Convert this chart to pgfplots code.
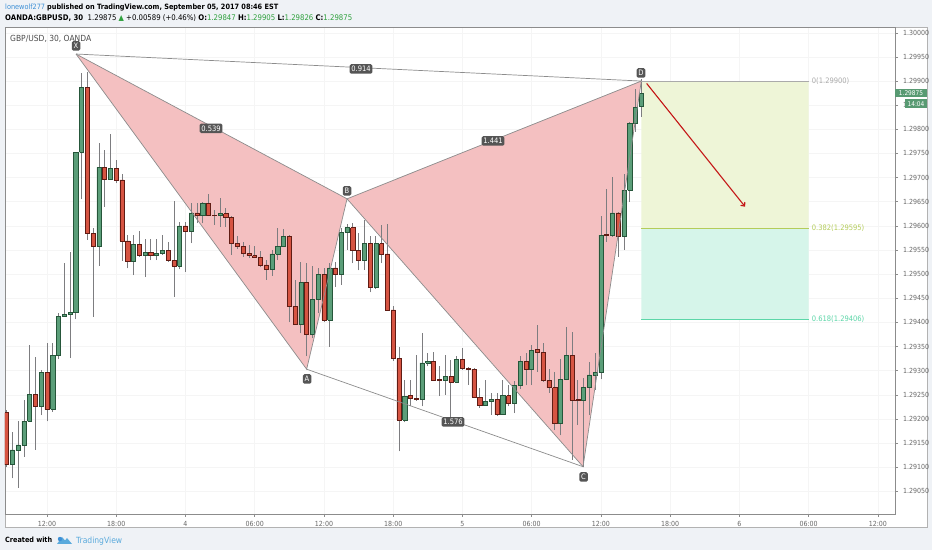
\documentclass[border=0pt]{standalone}
\usepackage{pgfplots}
\pgfplotsset{compat=1.18}
\usepackage{pgfplotstable}
\usepackage{fontspec}
\setmainfont{DejaVu Sans Condensed}
\usetikzlibrary{arrows.meta}

\definecolor{bgc}{RGB}{239,242,246}
\definecolor{cgreen}{RGB}{91,158,121}
\definecolor{cgreenb}{RGB}{38,86,58}
\definecolor{cred}{RGB}{214,84,66}
\definecolor{credb}{RGB}{96,28,20}
\definecolor{wickc}{RGB}{125,125,128}
\definecolor{pinkf}{RGB}{244,192,193}
\definecolor{patl}{RGB}{140,140,140}
\definecolor{labbg}{RGB}{85,85,85}
\definecolor{fibA}{RGB}{238,245,215}
\definecolor{fibB}{RGB}{214,245,234}
\definecolor{fibz}{RGB}{170,170,170}
\definecolor{fibt}{RGB}{180,204,90}
\definecolor{fibs}{RGB}{92,214,168}
\definecolor{arrowc}{RGB}{196,22,22}
\definecolor{tvblue}{RGB}{62,144,214}
\definecolor{tvlight}{RGB}{90,170,220}
\definecolor{tvgreen}{RGB}{46,160,60}
\definecolor{tagg}{RGB}{88,154,114}
\definecolor{tickc}{RGB}{105,105,105}

\newcommand\drawcandles[4]{%
  \pgfplotsinvokeforeach{0,...,#4}{%
    \pgfplotstablegetelem{##1}{t}\of#1\let\cT\pgfplotsretval
    \pgfplotstablegetelem{##1}{o}\of#1\let\cO\pgfplotsretval
    \pgfplotstablegetelem{##1}{h}\of#1\let\cH\pgfplotsretval
    \pgfplotstablegetelem{##1}{l}\of#1\let\cL\pgfplotsretval
    \pgfplotstablegetelem{##1}{c}\of#1\let\cC\pgfplotsretval
    \pgfmathsetmacro\cTl{\cT-0.36}%
    \pgfmathsetmacro\cTr{\cT+0.36}%
    \edef\candlenext{%
      \noexpand\addplot[draw=wickc, line width=0.8bp] coordinates {(\cT,\cL) (\cT,\cH)};%
      \noexpand\addplot[fill=#2, draw=#3, line width=0.6bp] coordinates {(\cTl,\cO) (\cTr,\cO) (\cTr,\cC) (\cTl,\cC) (\cTl,\cO)};%
    }%
    \candlenext
  }%
}

\tikzset{plab/.style={fill=labbg, text=white, rounded corners=1.5bp, inner xsep=1.8bp, inner ysep=1.2bp, minimum height=9.5bp, minimum width=8.5bp, font=\fontsize{7.5bp}{8bp}\selectfont}}

\begin{document}
\pgfplotstableread{
t o h l c
-6 1.29105 1.29172 1.29077 1.29136
-5 1.29136 1.29195 1.29057 1.29146
-4 1.29146 1.29239 1.29122 1.29195
-3 1.29195 1.29353 1.29195 1.29251
-1 1.29227 1.29302 1.29208 1.29297
1 1.29220 1.29358 1.29215 1.29331
2 1.29331 1.29419 1.29324 1.29412
3 1.29412 1.29524 1.29412 1.29417
4 1.29417 1.29545 1.29326 1.29420
5 1.29420 1.29752 1.29407 1.29752
6 1.29752 1.29916 1.29655 1.29887
9 1.29557 1.29772 1.29517 1.29721
11 1.29696 1.29790 1.29695 1.29719
15 1.29526 1.29581 1.29498 1.29562
17 1.29538 1.29572 1.29494 1.29545
19 1.29538 1.29572 1.29529 1.29543
20 1.29543 1.29581 1.29540 1.29549
23 1.29517 1.29609 1.29510 1.29600
25 1.29589 1.29648 1.29564 1.29627
27 1.29621 1.29650 1.29605 1.29647
30 1.29621 1.29657 1.29598 1.29625
39 1.29509 1.29550 1.29497 1.29542
40 1.29542 1.29595 1.29529 1.29558
41 1.29558 1.29593 1.29557 1.29578
44 1.29395 1.29526 1.29377 1.29483
46 1.29376 1.29517 1.29367 1.29448
47 1.29448 1.29512 1.29420 1.29500
49 1.29405 1.29522 1.29350 1.29513
51 1.29500 1.29595 1.29478 1.29587
52 1.29587 1.29604 1.29550 1.29596
55 1.29528 1.29613 1.29509 1.29563
57 1.29473 1.29578 1.29470 1.29563
62 1.29198 1.29281 1.29193 1.29247
65 1.29241 1.29378 1.29226 1.29316
66 1.29316 1.29336 1.29309 1.29319
69 1.29280 1.29333 1.29250 1.29288
71 1.29276 1.29330 1.29274 1.29323
76 1.29229 1.29281 1.29227 1.29236
77 1.29236 1.29254 1.29209 1.29241
79 1.29209 1.29281 1.29209 1.29248
81 1.29232 1.29278 1.29212 1.29269
82 1.29269 1.29330 1.29262 1.29319
84 1.29302 1.29353 1.29270 1.29342
89 1.29191 1.29325 1.29166 1.29282
90 1.29282 1.29391 1.29280 1.29332
93 1.29238 1.29284 1.29100 1.29265
94 1.29265 1.29318 1.29208 1.29291
95 1.29291 1.29337 1.29260 1.29296
96 1.29296 1.29620 1.29282 1.29581
98 1.29580 1.29701 1.29577 1.29627
100 1.29579 1.29708 1.29551 1.29674
101 1.29674 1.29815 1.29650 1.29813
102 1.29813 1.29884 1.29795 1.29846
103 1.29847 1.29905 1.29826 1.29875
}\greencandles
\pgfplotstableread{
t o h l c
-7 1.29213 1.29219 1.29101 1.29105
-2 1.29251 1.29329 1.29136 1.29227
0 1.29297 1.29358 1.29195 1.29220
7 1.29887 1.29919 1.29571 1.29585
8 1.29585 1.29595 1.29412 1.29557
10 1.29721 1.29757 1.29640 1.29696
12 1.29719 1.29736 1.29688 1.29694
13 1.29695 1.29708 1.29528 1.29569
14 1.29569 1.29581 1.29512 1.29526
16 1.29562 1.29589 1.29536 1.29538
18 1.29545 1.29572 1.29529 1.29538
21 1.29549 1.29567 1.29526 1.29528
22 1.29528 1.29652 1.29453 1.29517
24 1.29600 1.29607 1.29505 1.29589
26 1.29627 1.29647 1.29605 1.29621
28 1.29647 1.29667 1.29620 1.29621
29 1.29622 1.29633 1.29602 1.29621
31 1.29625 1.29636 1.29598 1.29618
32 1.29618 1.29620 1.29540 1.29564
33 1.29564 1.29578 1.29553 1.29558
34 1.29558 1.29567 1.29536 1.29543
35 1.29543 1.29560 1.29533 1.29538
36 1.29538 1.29559 1.29533 1.29535
37 1.29535 1.29547 1.29514 1.29519
38 1.29519 1.29529 1.29488 1.29509
42 1.29578 1.29581 1.29400 1.29433
43 1.29433 1.29488 1.29395 1.29395
45 1.29483 1.29522 1.29330 1.29376
48 1.29500 1.29512 1.29400 1.29405
50 1.29513 1.29526 1.29474 1.29500
53 1.29596 1.29606 1.29523 1.29549
54 1.29549 1.29585 1.29508 1.29528
56 1.29563 1.29578 1.29462 1.29473
58 1.29563 1.29602 1.29523 1.29542
59 1.29542 1.29604 1.29424 1.29426
60 1.29426 1.29433 1.29321 1.29325
61 1.29325 1.29350 1.29133 1.29198
63 1.29248 1.29281 1.29226 1.29243
64 1.29243 1.29333 1.29238 1.29241
67 1.29319 1.29338 1.29279 1.29281
68 1.29282 1.29309 1.29247 1.29280
70 1.29288 1.29323 1.29202 1.29276
72 1.29323 1.29347 1.29302 1.29305
73 1.29305 1.29308 1.29271 1.29303
74 1.29303 1.29305 1.29243 1.29245
75 1.29245 1.29264 1.29223 1.29229
78 1.29241 1.29254 1.29207 1.29209
80 1.29248 1.29271 1.29226 1.29232
83 1.29319 1.29337 1.29270 1.29302
85 1.29344 1.29394 1.29298 1.29337
86 1.29337 1.29358 1.29277 1.29280
87 1.29280 1.29304 1.29254 1.29265
88 1.29265 1.29298 1.29177 1.29191
91 1.29332 1.29380 1.29115 1.29239
92 1.29240 1.29280 1.29187 1.29238
97 1.29583 1.29677 1.29567 1.29580
99 1.29627 1.29629 1.29536 1.29579
}\redcandles
\begin{tikzpicture}
\useasboundingbox (0,0) rectangle (932bp,550bp);
\fill[bgc] (0,0) rectangle (932bp,550bp);
\fill[white] (5bp,23bp) rectangle (927bp,523bp);
\draw[black!30, line width=0.8bp] (5bp,23bp) rectangle (927bp,523bp);
\begin{axis}[
  at={(5bp,36bp)}, anchor=south west, scale only axis,
  width=890bp, height=487bp,
  xmin=-7.28, xmax=146.97,
  ymin=1.29003, ymax=1.30012,
  ytick={1.29050,1.29100,1.29150,1.29200,1.29250,1.29300,1.29350,1.29400,1.29450,1.29500,1.29550,1.29600,1.29650,1.29700,1.29750,1.29800,1.29850,1.29900,1.29950,1.30000},
  yticklabels={1.29050,1.29100,1.29150,1.29200,1.29250,1.29300,1.29350,1.29400,1.29450,1.29500,1.29550,1.29600,1.29650,1.29700,1.29750,1.29800,1.,1.29900,1.29950,1.30000},
  xtick={0,12,24,36,48,60,72,84,96,108,120,132,144},
  xticklabels={12:00,18:00,4,06:00,12:00,18:00,5,06:00,12:00,18:00,6,06:00,12:00},
  ytick pos=right, yticklabel pos=right, xtick pos=left,
  tick align=outside, major tick length=3bp,
  tick style={draw=black!45, line width=0.5bp},
  grid=major, grid style={draw=black!4, line width=0.5bp},
  axis line style={draw=black!45, line width=0.8bp},
  xticklabel style={font=\fontsize{7bp}{8bp}\selectfont, text=tickc, inner sep=0pt, anchor=center, yshift=-7.2bp},
  yticklabel style={font=\fontsize{7bp}{8bp}\selectfont, text=tickc, inner sep=0pt, anchor=west, xshift=5bp},
  clip=true,
]
\addplot[fill=fibA, draw=none] coordinates {(103,1.29900) (132,1.29900) (132,1.29595) (103,1.29595) (103,1.29900)};
\addplot[fill=fibB, draw=none] coordinates {(103,1.29595) (132,1.29595) (132,1.29406) (103,1.29406) (103,1.29595)};
\addplot[fill=pinkf, draw=none] coordinates {(5.03,1.29956) (45.0,1.29303) (52.0,1.29656) (5.03,1.29956)};
\addplot[fill=pinkf, draw=none] coordinates {(52.0,1.29656) (92.9,1.29101) (103.0,1.29900) (52.0,1.29656)};
\drawcandles{\greencandles}{cgreen}{cgreenb}{53}
\drawcandles{\redcandles}{cred}{credb}{56}
\addplot[draw=patl, line width=0.7bp] coordinates {(5.03,1.29956) (45.0,1.29303) (52.0,1.29656) (92.9,1.29101) (103.0,1.29900)};
\addplot[draw=patl, line width=0.7bp] coordinates {(5.03,1.29956) (52.0,1.29656) (103.0,1.29900)};
\addplot[draw=patl, line width=0.7bp] coordinates {(5.03,1.29956) (103.0,1.29900)};
\addplot[draw=patl, line width=0.7bp] coordinates {(45.0,1.29303) (92.9,1.29101)};
\addplot[draw=fibz, line width=0.8bp] coordinates {(103,1.29900) (132,1.29900)};
\addplot[draw=fibt, line width=0.8bp] coordinates {(103,1.29595) (132,1.29595)};
\addplot[draw=fibs, line width=0.8bp] coordinates {(103,1.29406) (132,1.29406)};
\addplot[draw=arrowc, line width=1.1bp, -{To[length=4bp,width=6bp]}] coordinates {(103.93,1.29895) (120.97,1.29640)};
\end{axis}
% pattern labels
\node[plab] at (76bp,504bp) {X};
\node[plab] at (307bp,171bp) {A};
\node[plab] at (347bp,359bp) {B};
\node[plab] at (583.5bp,73bp) {C};
\node[plab] at (641bp,477bp) {D};
\node[plab] at (211bp,421.7bp) {0.539};
\node[plab] at (361bp,481bp) {0.914};
\node[plab] at (493bp,409bp) {1.441};
\node[plab] at (453bp,128bp) {1.576};
% fib labels
\node[anchor=west, inner sep=0pt, text=fibz, font=\fontsize{7.5bp}{8bp}\selectfont] at (811.7bp,469bp) {0(1.29900)};
\node[anchor=west, inner sep=0pt, text=fibt, font=\fontsize{7.5bp}{8bp}\selectfont] at (811.7bp,321.7bp) {0.382(1.29595)};
\node[anchor=west, inner sep=0pt, text=fibs, font=\fontsize{7.5bp}{8bp}\selectfont] at (811.7bp,230.7bp) {0.618(1.29406)};
% price tags
\fill[tagg] (895bp,453bp) rectangle (927bp,461bp);
\node[text=white, inner sep=0pt, font=\fontsize{6.5bp}{7bp}\selectfont] at (911bp,457bp) {1.29875};
\fill[tagg] (905bp,441.7bp) rectangle (927bp,450.7bp);
\node[text=white, inner sep=0pt, font=\fontsize{6.5bp}{7bp}\selectfont] at (916bp,446.2bp) {14:04};
% chart title
\node[anchor=west, inner sep=0pt, text=black!70] at (10bp,511.5bp) {\resizebox{81bp}{!}{GBP/USD, 30, OANDA}};
% header
\node[anchor=base west, inner sep=0pt] at (5bp,540.5bp) {\resizebox{273bp}{!}{{\color{tvblue}lonewolf277} \textbf{published on TradingView.com, September 05, 2017 08:46 EST}}};
\node[anchor=base west, inner sep=0pt] at (5bp,529bp) {\resizebox{347bp}{!}{\textbf{OANDA:GBPUSD, 30}\ \ 1.29875 {\color{tvgreen}▲} +0.00589 (+0.46\%) \textbf{O:}{\color{tvgreen}1.29847} \textbf{H:}{\color{tvgreen}1.29905} \textbf{L:}{\color{tvgreen}1.29826} \textbf{C:}{\color{tvgreen}1.29875}}};
% footer
\node[anchor=base west, inner sep=0pt] at (5bp,7bp) {\resizebox{47bp}{!}{\textbf{Created with}}};
\fill[tvlight] (57bp,6bp) -- (62bp,13bp) -- (65bp,9.5bp) -- (67bp,12bp) -- (72bp,6bp) -- cycle;
\fill[tvblue] (60bp,11bp) circle (2.2bp);
\node[anchor=base west, inner sep=0pt, text=tvlight] at (76bp,7bp) {\resizebox{46bp}{!}{TradingView}};
\end{tikzpicture}
\end{document}
